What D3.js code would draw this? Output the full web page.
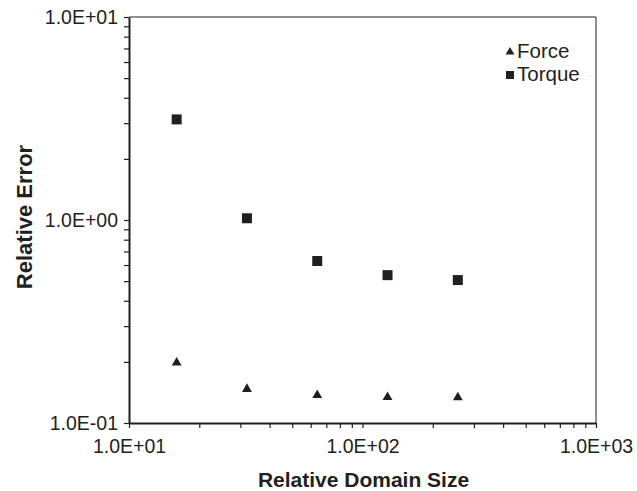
<!DOCTYPE html>
<html>
<head>
<meta charset="utf-8">
<script src="https://cdn.jsdelivr.net/npm/d3@7"></script>
<style>
  html, body { margin: 0; padding: 0; background: #fff; }
  svg { display: block; }
  text { font-family: "Liberation Sans", Arial, Helvetica, sans-serif; fill: #231f20; }
</style>
</head>
<body>
<svg id="chart" width="637" height="491"></svg>
<script>
// Relative domain size (x) and relative error for each quantity
const domainSizes = [16, 32, 64, 128, 256];
const forceError  = [0.198, 0.147, 0.137, 0.134, 0.1335];
const torqueError = [3.13, 1.02, 0.628, 0.535, 0.506];

const xMajorTicks = [10, 100, 1000];
const yMajorTicks = [0.1, 1, 10];
const xTickLabels = ["1.0E+01", "1.0E+02", "1.0E+03"];
const yTickLabels = ["1.0E-01", "1.0E+00", "1.0E+01"];

const seriesNames = ["Force", "Torque"];
const ink = "#231f20";

const svg = d3.select("#chart");
const margin = { left: 129, top: 17, right: 41, bottom: 68 };
const W = 637, H = 491;
const plotW = W - margin.left - margin.right;
const plotH = H - margin.top - margin.bottom;

const x = d3.scaleLog().domain([10, 1000]).range([0, plotW]);
const y = d3.scaleLog().domain([0.1, 10]).range([plotH, 0]);

const g = svg.append("g").attr("transform", `translate(${margin.left},${margin.top})`);

// minor ticks at 2..9 of each decade
function minorTicks(lo, hi) {
  const out = [];
  for (let d = lo; d < hi; d *= 10) for (let k = 2; k <= 9; k++) out.push(d * k);
  return out;
}

// frame: thin top/right, heavier left/bottom axes
g.append("line").attr("x1", 0).attr("x2", plotW).attr("y1", 0).attr("y2", 0)
  .attr("stroke", ink).attr("stroke-width", 1);
g.append("line").attr("x1", plotW).attr("x2", plotW).attr("y1", 0).attr("y2", plotH)
  .attr("stroke", ink).attr("stroke-width", 1);

// x axis
const xAxis = d3.axisBottom(x)
  .tickValues(xMajorTicks.concat(minorTicks(10, 1000)))
  .tickSizeOuter(0)
  .tickSizeInner(5)
  .tickPadding(11)
  .tickFormat(d => {
    const i = xMajorTicks.indexOf(d);
    return i >= 0 ? xTickLabels[i] : "";
  });
const xg = g.append("g").attr("transform", `translate(0,${plotH})`).call(xAxis);
xg.select(".domain").attr("stroke", ink).attr("stroke-width", 2);
xg.selectAll(".tick line").attr("stroke", ink).attr("stroke-width", 1.2);
xg.selectAll(".tick text").attr("font-size", 19.5).attr("fill", ink)
  .style("font-family", '"Liberation Sans", Arial, sans-serif');

// y axis
const yAxis = d3.axisLeft(y)
  .tickValues(yMajorTicks.concat(minorTicks(0.1, 10)))
  .tickSizeOuter(0)
  .tickSizeInner(5)
  .tickPadding(6)
  .tickFormat(d => {
    const i = yMajorTicks.findIndex(v => Math.abs(v - d) < 1e-9);
    return i >= 0 ? yTickLabels[i] : "";
  });
const yg = g.append("g").call(yAxis);
yg.select(".domain").attr("stroke", ink).attr("stroke-width", 2);
yg.selectAll(".tick line").attr("stroke", ink).attr("stroke-width", 1.2);
yg.selectAll(".tick text").attr("font-size", 19.5).attr("fill", ink)
  .style("font-family", '"Liberation Sans", Arial, sans-serif');

// axis titles
svg.append("text")
  .attr("x", margin.left + plotW / 2 + 1).attr("y", 486.5)
  .attr("text-anchor", "middle").attr("font-size", 21).attr("font-weight", "bold")
  .text("Relative Domain Size");
svg.append("text")
  .attr("transform", `translate(32,${margin.top + plotH / 2 - 3}) rotate(-90)`)
  .attr("text-anchor", "middle").attr("font-size", 22).attr("font-weight", "bold")
  .text("Relative Error");

// markers
const tri = d3.symbol().type(d3.symbolTriangle).size(42);
const sq = d3.symbol().type(d3.symbolSquare).size(100);

g.selectAll(".force").data(domainSizes.map((d, i) => [d, forceError[i]]))
  .enter().append("path").attr("class", "force")
  .attr("d", tri)
  .attr("transform", d => `translate(${x(d[0])},${y(d[1])})`)
  .attr("fill", ink);

g.selectAll(".torque").data(domainSizes.map((d, i) => [d, torqueError[i]]))
  .enter().append("path").attr("class", "torque")
  .attr("d", sq)
  .attr("transform", d => `translate(${x(d[0])},${y(d[1])})`)
  .attr("fill", ink);

// legend
const legend = svg.append("g").attr("transform", "translate(510,52)");
const shapes = [d3.symbol().type(d3.symbolTriangle).size(34), d3.symbol().type(d3.symbolSquare).size(64)];
seriesNames.forEach((name, i) => {
  const row = legend.append("g").attr("transform", `translate(0,${i * 23})`);
  row.append("path").attr("d", shapes[i]).attr("fill", ink);
  row.append("text").attr("x", 7).attr("y", 5.7).attr("font-size", 20.5).text(name);
});
</script>
</body>
</html>
